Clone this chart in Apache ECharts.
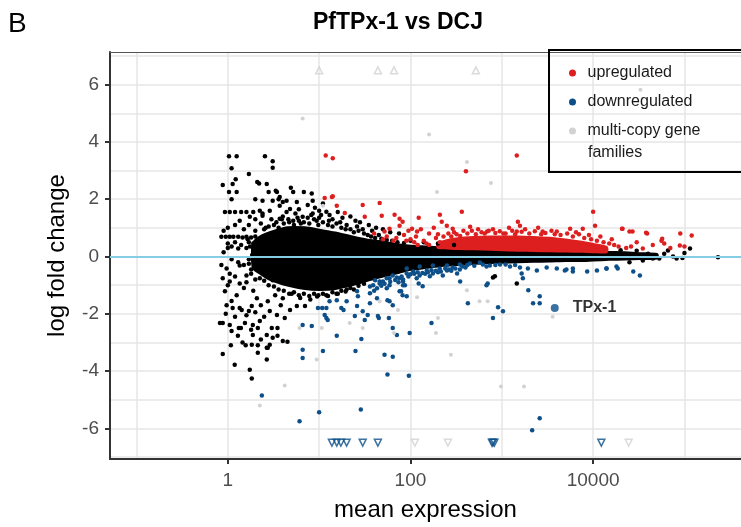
<!DOCTYPE html>
<html>
<head>
<meta charset="UTF-8">
<title>PfTPx-1 vs DCJ</title>
<script type="text/javascript" src="https://cdn.jsdelivr.net/npm/echarts@6/dist/echarts.min.js"></script>
<style>
  html, body { margin: 0; padding: 0; background: #fff; }
  #main { width: 741px; height: 527px; }
</style>
</head>
<body>
<div id="main"></div>
<script type="text/javascript">
// axis ranges
var xMin = 0.0513, xMax = 416000;
var yMin = -7.07, yMax = 7.14;
var xTickVals = [1, 100, 10000];
var yTickVals = [-6, -4, -2, 0, 2, 4, 6];

// dense black core of the cloud: envelope (mean expression, upper / lower log fold change)
var coreMean  = [1.9, 2.3, 3, 4.5, 7, 10, 15, 22, 33, 50, 75, 100, 150, 220, 330, 500, 750, 1000, 1500, 2200, 3300, 5000, 7500, 10000, 15000, 22000, 33000, 50000];
var coreUpper = [0.45, 0.7, 0.85, 1.0, 1.0, 0.92, 0.82, 0.7, 0.58, 0.5, 0.4, 0.36, 0.33, 0.3, 0.27, 0.26, 0.24, 0.23, 0.21, 0.2, 0.2, 0.18, 0.17, 0.16, 0.14, 0.13, 0.1, 0.07];
var coreLower = [-0.4, -0.6, -0.82, -1.0, -1.12, -1.15, -1.12, -1.0, -0.84, -0.68, -0.55, -0.45, -0.38, -0.31, -0.28, -0.24, -0.21, -0.2, -0.18, -0.17, -0.16, -0.14, -0.14, -0.12, -0.1, -0.09, -0.07, -0.05];

// dense red (upregulated) band
var upMean  = [200, 250, 330, 500, 750, 1000, 1500, 2200, 3300, 5000, 7500, 10000, 14000];
var upUpper = [0.45, 0.55, 0.62, 0.66, 0.68, 0.68, 0.68, 0.66, 0.64, 0.58, 0.5, 0.42, 0.32];
var upLower = [0.32, 0.3, 0.28, 0.27, 0.25, 0.24, 0.22, 0.21, 0.2, 0.19, 0.18, 0.17, 0.16];

// single genes outside the dense core: [mean expression, log fold change]
var blackPts = [
  [0.88,2.5],[1.03,3.5],[1.25,3.5],[1.1,3.08],[1.22,2.7],[1.13,2.53],[1.03,2.25],[1.25,2.25],[1.1,2.0],[1.7,2.88],
  [2.1,2.6],[2.2,2.55],[2.55,3.5],[3.1,3.33],[3.1,3.1],[2.67,2.53],[2.8,2.25],[2.0,2.0],[2.4,1.95],[3.1,1.95],
  [3.35,2.3],[3.6,2.0],[4.9,2.4],[5.2,2.25],[4.4,1.95],[5.7,1.9],[6.8,2.25],[8.3,2.2],[8.5,1.95],
  [0.93,1.55],[1.05,1.55],[1.2,1.55],[1.4,1.55],[1.6,1.55],[1.35,1.25],[1.9,1.55],[2.0,1.3],[2.4,1.5],[4.0,1.9],
  [4.4,1.55],[3.45,2.25],[3.7,2.08],[4.8,1.66],[3.7,1.77],[2.88,1.6],[2.24,1.6],[1.74,1.39],[2.4,1.42],[3.7,1.32],
  [5.2,1.25],[6.6,1.39],[9.4,1.25],[12,1.56],[8.5,1.5],
  [0.85,0.69],[0.95,0.69],[1.05,0.69],[1.15,0.69],[1.3,0.69],[1.45,0.66],[1.6,0.69],[1.8,0.66],[0.9,0.9],[1.0,1.0],
  [1.1,0.35],[1.0,0.3],[1.3,0.28],[1.6,0.3],[1.9,0.28],[1.2,1.1],[1.5,0.95],[1.7,1.1],[2.0,0.9],[2.3,1.15],
  [2.6,1.0],[3.0,1.3],[3.4,1.2],[4.0,1.4],[4.6,1.3],[5.5,1.5],[6.3,1.15],[7.5,1.35],[10.5,1.45],[14,1.3],
  [17,1.2],[20,1.1],[26,1.05],[30,0.95],[38,0.9],[45,0.75],
  [10,1.6],[13,1.45],[16,1.55],[18,1.35],[22,1.4],[25,1.25],[28,1.2],[35,1.1],[42,1.0],[50,0.95],
  [60,0.85],[75,0.8],[9,1.7],[11,1.85],[7.5,1.8],[6,1.65],[100,0.55],[140,0.5],[200,0.45],[300,0.4],
  [1.0,0.45],[1.2,0.5],[1.4,0.4],[1.7,0.5],[1.1,-0.1],[1.3,-0.2],[1.5,-0.3],[1.8,-0.45],[1.2,-0.7],[1.6,-0.9],
  [0.9,0.15],[0.85,-0.3],[1.05,-0.6],[1.9,0.2],[1.7,-0.1],
  [1.65,0.6],[1.75,0.35],[1.85,0.05],[1.7,-0.25],[1.8,-0.6],[2.0,-0.8],[2.0,0.7],[1.9,0.45],[2.1,-0.3],[2.2,0.1],
  [2.5,0.95],[2.8,1.05],[3.2,1.1],[3.6,1.0],[4.1,1.15],[4.7,1.2],[5.3,1.1],[6.0,1.25],[6.8,1.2],[7.8,1.15],
  [8.8,1.3],[9.8,1.1],[11,1.2],[12.5,1.1],[14,1.05],[15.5,1.15],[17.5,1.0],[19.5,0.95],[22,0.95],[24,0.85],
  [27,0.9],[31,0.8],[34,0.75],[37,0.7],[41,0.65],[48,0.62],[55,0.58],[63,0.55],[72,0.5],[85,0.47],
  [5.8,1.35],[8.2,1.45],[10,1.35],[3.9,1.3],[12.8,1.25],
  [2.5,-0.85],[2.8,-1.0],[3.2,-1.05],[3.6,-1.15],[4.1,-1.2],[4.7,-1.3],[5.3,-1.25],[6.0,-1.35],[6.8,-1.3],[7.8,-1.38],
  [8.8,-1.3],[9.8,-1.35],[11,-1.3],[12.5,-1.38],[14,-1.25],[15.5,-1.3],[17.5,-1.2],[19.5,-1.22],[22,-1.1],[24,-1.15],
  [27,-1.02],[31,-0.95],
  [0.88,-3.4],[1.08,-3.1],[1.19,-3.78],[0.88,-2.32],[1.05,-2.39],[1.32,-2.5],[1.29,-2.77],[1.57,-3.1],[1.83,-3.08],[1.74,-3.95],
  [1.83,-4.26],[2.13,-3.36],[2.67,-3.6],[2.88,-3.08],[3.5,-2.77],[4.5,-2.98],[2.74,-3.19],[1.54,-2.32],[1.88,-2.39],[2.24,-2.25],
  [3.03,-2.5],[3.5,-2.5],[1.13,-1.8],[1.42,-1.87],[1.83,-1.73],[0.88,-0.76],[1.05,-0.87],[0.93,-1.21],[1.25,-1.35],[2.08,-1.46],
  [2.74,-1.56],[4.0,-1.46],[4.8,-1.87],[5.7,-1.73],[7.0,-1.73],[0.97,-0.42],[1.35,-0.31],[1.6,-0.66],[2.24,-0.76],[3.1,-0.83],
  [3.45,-2.04],[4.2,-2.15],[2.88,-1.9],[0.82,-2.32],[1.39,-2.5],[1.8,-2.56],[2.13,-2.5],[0.97,-1.7],[1.35,-1.8],[1.7,-1.9],
  [1.88,-2.74],[2.67,-2.74],[2.13,-3.1],[2.67,-3.19],[3.1,-2.84],[4.0,-2.95],[1.0,-1.0],[1.35,-0.94],
  [1.1,-1.55],[1.5,-1.1],[1.9,-1.2],[2.3,-1.7],[3.3,-1.35],[3.8,-1.7],[5.0,-1.3],[6.2,-1.45],[8.0,-1.5],[9.5,-1.4],
  [12,-1.35],[16,-1.3],[20,-1.15],[1.2,-2.1],[1.6,-2.05],[2.0,-1.95],[0.95,-2.0],[2.5,-2.1],[1.45,-3.0],[1.1,-2.6],[2.3,-2.9],
  [53000,-0.07],[82000,-0.07],[115000,0.28],[66000,0.21],[40000,0.1],[30000,0.2],[35000,-0.14],[45000,-0.07],[233000,-0.03],
  [840,-0.69],[800,-0.73],[1460,-0.94],[60000,0.1],[75000,0.0],[95000,-0.05],[25000,-0.2],[20000,0.22],[100000,0.12]
];

var upPts = [
  [11.8,3.53],[14.1,3.43],[11.5,2.04],[13.8,2.08],[14.1,2.1],[15.6,1.77],[19.1,1.52],[30,1.8],[31.6,1.39],[1460,3.53],
  [405,2.98],[46,1.87],[48.5,1.42],[67,1.46],[76,1.32],[82,1.21],[123,1.35],[210,1.46],[365,1.56],[10000,1.56],
  [10500,1.07],[1500,1.21],[59,0.97],[52,0.87],[104,0.97],[118,0.87],[250,1.07],[290,0.97],[450,1.04],[690,0.87],
  [1040,0.8],[1460,0.87],[2800,0.87],[4000,0.87],[5600,0.97],[7700,0.97],[21000,0.97],[27000,0.87],[39000,0.8],[57000,0.62],
  [90000,0.8],[120000,0.73],[89000,0.38],[100000,0.35],[76,1.07],[220,1.21],[1580,1.07],[20700,0.97],[25000,0.87],[38000,0.83],
  [56000,0.55],[60000,0.45],
  [40,0.8],[55,0.7],[70,0.65],[85,0.75],[100,0.6],[115,0.7],[140,0.55],[160,0.8],[190,0.65],[95,0.9],[130,0.95],[180,1.0],
  [300,0.85],[380,0.9],[550,0.95],[800,0.95],[1200,1.0],[1800,0.95],[2500,1.0],[3500,0.9],[6500,0.85],[9000,0.75],
  [12000,0.7],[16000,0.6],[30000,0.5],[45000,0.4],[70000,0.3],
  [200,0.78],[230,0.7],[260,0.8],[280,0.7],[320,0.78],[350,0.72],[420,0.8],[470,0.9],[520,0.78],[600,0.85],
  [650,0.8],[720,0.9],[850,0.82],[950,0.88],[1100,0.8],[1300,0.9],[1400,0.78],[1650,0.86],[2000,0.8],[2300,0.88],
  [2700,0.78],[3000,0.82],[3800,0.78],[4400,0.75],[5200,0.8],[6000,0.7],[7000,0.78],[8000,0.65],[9500,0.6],[11000,0.55],
  [13000,0.5],[15000,0.45],[17000,0.4],[19000,0.35],[23000,0.3],[26000,0.35],[35000,0.28],[150,0.45],[120,0.4],[110,0.5],
  [160,0.4],[90,0.55],[65,0.55],[50,0.6],[210,0.5]
];

var downPts = [
  [39,-1.0],[46,-0.87],[55,-0.76],[64,-0.66],[76,-0.76],[91,-0.59],[107,-0.52],[126,-0.66],[151,-0.49],[176,-0.59],
  [209,-0.42],[251,-0.49],[290,-0.38],[347,-0.45],[43,-1.11],[59,-1.0],[83,-0.87],[117,-0.76],[163,-0.69],[226,-0.66],[324,-0.59],
  [91,-0.42],[126,-0.35],[176,-0.31],[251,-0.31],[347,-0.28],[447,-0.24],[575,-0.21],[740,-0.31],[955,-0.28],[1230,-0.35],
  [1580,-0.38],[1930,-0.42],[2420,-0.49],[3100,-0.38],[4000,-0.42],[5100,-0.45],[6000,-0.52],[8600,-0.52],[11000,-0.49],[14000,-0.42],
  [18600,-0.42],[27500,-0.52],[32500,-0.66],
  [2200,-1.63],[2600,-1.39],[2600,-1.63],[1950,-1.18],[910,-1.77],[1030,-1.91],[800,-2.15],[425,-1.63],[170,-2.32],[98,-2.67],
  [96,-4.16],[56,-4.12],[52,-3.43],[64,-3.5],[64,-2.5],[71,-2.74],[45,-2.15],[58,-2.15],[56,-1.53],[64,-1.7],
  [79,-1.21],[82,-1.35],[87,-1.0],[123,-0.94],[136,-1.04],[350,-0.87],[700,-0.94],[680,-1.0],[2600,-5.65],[2150,-6.07],
  [4900,-0.49],[6000,-0.42],[14000,-0.42],[18000,-0.35],[1650,-0.59],[1700,-0.76],
  [2.36,-4.85],[6.6,-2.39],[8.3,-2.43],[6.6,-3.26],[6.6,-3.54],[11,-3.3],[15.6,-2.77],[25,-3.3],[29,-2.88],[24.6,-2.08],
  [31.6,-2.22],[36,-1.63],[11.5,-2.04],[12.4,-2.22],[13,-1.56],[15.6,-1.53],[20,-1.56],[9.7,-1.8],[12,-1.8],[17.5,-1.8],
  [18.5,-1.87],[26,-1.21],[26.6,-1.39],[26,-1.73],[30,-1.91],[34,-2.04],[44,-2.08],[36,-1.28],[43,-1.46],[46,-0.94],
  [55,-1.11],[59,-1.56],[76,-1.21],[83,-1.0],[91,-1.39],[41,-0.83],[50,-0.87],[59,-0.76],[71,-0.73],[83,-0.8],
  [6.1,-5.75],[10,-5.44],[28.6,-5.34],[10.8,-1.8],[12,-2.15],
  [36,-1.05],[40,-1.2],[48,-1.02],[52,-0.95],[60,-0.88],[68,-0.82],[74,-0.9],[80,-0.7],[95,-0.7],[100,-0.62],
  [110,-0.6],[120,-0.55],[135,-0.58],[145,-0.6],[155,-0.55],[170,-0.48],[190,-0.5],[200,-0.55],[215,-0.52],[240,-0.42],
  [265,-0.45],[280,-0.5],[310,-0.42],[370,-0.35],[400,-0.38],[420,-0.3],[500,-0.32],[620,-0.28],[680,-0.35],[850,-0.3],
  [1100,-0.28],[1400,-0.3]
];

var multiPts = [
  [6.6,4.82],[160,4.26],[415,3.3],[760,2.57],[195,2.25],[33000,5.82],[11,1.77],[4.2,-4.5],[2.24,-5.2],[9.4,-3.6],
  [6.1,-2.5],[10.7,-2.5],[21.6,-2.32],[30,-2.5],[980,-4.54],[1750,-4.54],[277,-3.43],[190,-2.67],[200,-2.15],[3600,-2.1],
  [570,-1.56],[700,-1.56],[415,-1.18],[118,-1.42],[73,-1.87],[66,-2.67],[46,-1.56]
];

// genes beyond the plotted range, drawn as triangles at the edge
var multiAbove = [[10,6.5],[44,6.5],[66,6.5],[520,6.5]];
var multiBelow = [[112,-6.5],[257,-6.5],[24500,-6.5]];
var downBelow  = [[13.8,-6.5],[15.6,-6.5],[17.3,-6.5],[20,-6.5],[30,-6.5],[44,-6.5],[780,-6.5],[800,-6.5],[830,-6.5],[12300,-6.5]];

var tpx = [[3800,-1.8]];

var RED = '#dd1f1f', BLUE = '#0d4f88', GREY = '#d2d2d2';
var FONT = 'Liberation Sans, Arial, sans-serif';

function bandSeries(name, xs, up, lo, color) {
  return {
    type: 'custom', name: name, silent: true, clip: true,
    xAxisIndex: 0, yAxisIndex: 0,
    data: xs.map(function (x, i) { return [x, up[i], lo[i]]; }),
    encode: { x: 0, y: [1, 2] },
    renderItem: function (params, api) {
      if (params.dataIndex !== 0) return;
      var pts = [];
      for (var i = 0; i < xs.length; i++) pts.push(api.coord([xs[i], up[i]]));
      for (var j = xs.length - 1; j >= 0; j--) pts.push(api.coord([xs[j], lo[j]]));
      return { type: 'polygon', shape: { points: pts, smooth: 0.2 },
               style: { fill: color, stroke: color, lineWidth: 3, lineJoin: 'round' } };
    }
  };
}

function dots(name, data, color, size) {
  return { type: 'scatter', name: name, data: data, symbol: 'circle', symbolSize: size,
           itemStyle: { color: color, opacity: 1 }, silent: true, xAxisIndex: 0, yAxisIndex: 0 };
}

function tris(name, data, color, down) {
  return { type: 'scatter', name: name, data: data, symbol: 'triangle', symbolSize: 7,
           symbolRotate: down ? 180 : 0, silent: true, xAxisIndex: 0, yAxisIndex: 0,
           itemStyle: { color: 'rgba(255,255,255,0)', borderColor: color, borderWidth: 1.5 } };
}

var chart = echarts.init(document.getElementById('main'), null, { renderer: 'canvas' });

var option = {
  animation: false,
  textStyle: { fontFamily: FONT },
  grid: { left: 110, right: 0, top: 52, bottom: 65, containLabel: false },
  graphic: [
    { type: 'text', x: 8, y: 24, style: { text: 'B', font: '28px ' + FONT, fill: '#000',
      align: 'left', verticalAlign: 'middle', textAlign: 'left', textVerticalAlign: 'middle' } },
    { type: 'text', x: 398, y: 23, style: { text: 'PfTPx-1 vs DCJ', font: 'bold 23px ' + FONT, fill: '#000',
      align: 'center', verticalAlign: 'middle', textAlign: 'center', textVerticalAlign: 'middle' } },
    { type: 'text', x: 588, y: 153, z: 20, style: { text: 'families', font: '16px ' + FONT, fill: '#1a1a1a',
      align: 'left', verticalAlign: 'middle', textAlign: 'left', textVerticalAlign: 'middle' } }
  ],
  legend: {
    orient: 'vertical', left: 549, top: 50,
    padding: [13, 70, 31, 20], itemGap: 9,
    itemWidth: 20, itemHeight: 7,
    borderColor: '#000', borderWidth: 2,
    textStyle: { fontSize: 16, color: '#1a1a1a', lineHeight: 20, fontFamily: FONT },
    data: [
      { name: 'upregulated', icon: 'circle' },
      { name: 'downregulated', icon: 'circle' },
      { name: 'multi-copy gene families', icon: 'circle' }
    ],
    formatter: function (name) { return name === 'multi-copy gene families' ? 'multi-copy gene' : name; },
    selectedMode: false
  },
  xAxis: [
    { type: 'log', logBase: 10, min: xMin, max: xMax, position: 'bottom',
      axisLine: { onZero: false, lineStyle: { color: '#333', width: 2 } },
      axisTick: { show: false }, axisLabel: { show: false },
      splitLine: { show: true, showMinLine: false, showMaxLine: false, lineStyle: { color: '#e6e6e6', width: 1.5 } } },
    { type: 'log', logBase: 10, min: xMin, max: xMax, position: 'bottom',
      axisLine: { show: false, onZero: false },
      axisTick: { show: true, customValues: xTickVals, length: 5, lineStyle: { color: '#333', width: 2 } },
      axisLabel: { customValues: xTickVals, margin: 12, fontSize: 19, color: '#4d4d4d',
        formatter: function (v) { return String(Math.round(v)); } },
      splitLine: { show: false },
      name: 'mean expression', nameLocation: 'middle', nameGap: 39,
      nameTextStyle: { fontSize: 24, color: '#000' } },
    { type: 'log', logBase: 10, min: xMin, max: xMax, position: 'top',
      axisLine: { onZero: false, lineStyle: { color: '#555', width: 1.2 } },
      axisTick: { show: false }, axisLabel: { show: false }, splitLine: { show: false } }
  ],
  yAxis: [
    { type: 'value', min: yMin, max: yMax, splitNumber: 14, position: 'left',
      axisLine: { show: true, onZero: false, lineStyle: { color: '#333', width: 2 } },
      axisTick: { show: false }, axisLabel: { show: false },
      splitLine: { show: true, showMinLine: false, showMaxLine: false, lineStyle: { color: '#e6e6e6', width: 1.5 } } },
    { type: 'value', min: yMin, max: yMax, position: 'left',
      axisLine: { show: false, onZero: false },
      axisTick: { show: true, customValues: yTickVals, length: 5, lineStyle: { color: '#333', width: 2 } },
      axisLabel: { customValues: yTickVals, margin: 11, fontSize: 19, color: '#4d4d4d' },
      splitLine: { show: false },
      name: 'log fold change', nameLocation: 'middle', nameGap: 41, nameRotate: 90,
      nameTextStyle: { fontSize: 24, color: '#000' } }
  ],
  series: [
    bandSeries('core', coreMean, coreUpper, coreLower, '#000'),
    dots('not significant', blackPts, '#000', 4.5),
    bandSeries('up core', upMean, upUpper, upLower, RED),
    dots('upregulated', upPts, RED, 4.5),
    dots('downregulated', downPts, BLUE, 4.5),
    dots('multi-copy gene families', multiPts, GREY, 4),
    tris('multi-copy above range', multiAbove, GREY, false),
    tris('multi-copy below range', multiBelow, GREY, true),
    tris('down below range', downBelow, BLUE, true),
    {
      type: 'scatter', name: 'TPx-1', data: tpx, symbol: 'circle', symbolSize: 8, silent: true,
      xAxisIndex: 0, yAxisIndex: 0,
      itemStyle: { color: BLUE },
      label: { show: true, position: 'right', distance: 14, formatter: 'TPx-1',
               fontSize: 16, fontWeight: 'bold', color: '#000', fontFamily: FONT },
      markLine: { silent: true, symbol: 'none', label: { show: false },
                  lineStyle: { color: '#86cde3', width: 2, type: 'solid' },
                  data: [{ yAxis: 0 }] }
    }
  ]
};

chart.setOption(option);
</script>
</body>
</html>
